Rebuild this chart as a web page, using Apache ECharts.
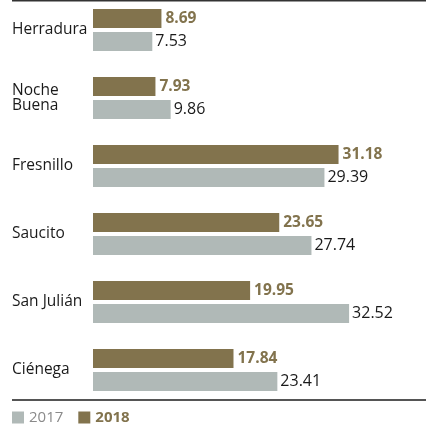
<!DOCTYPE html>
<html><head><meta charset="utf-8">
<script src="https://cdn.jsdelivr.net/npm/echarts@6/dist/echarts.min.js"></script>
<style>html,body{margin:0;padding:0;background:#fff}#c{width:426px;height:424px}</style>
</head><body><div id="c"></div>
<script>
var categories = ['Herradura', 'Noche\nBuena', 'Fresnillo', 'Saucito', 'San Julián', 'Ciénega'];
var values2018 = [8.69, 7.93, 31.18, 23.65, 19.95, 17.84];
var values2017 = [7.53, 9.86, 29.39, 27.74, 32.52, 23.41];
var seriesNames = ['2017', '2018'];

var c2018 = '#82734d', c2017 = '#b0b9b7';
var font = '"Open Sans", Lato, sans-serif';
var chart = echarts.init(document.getElementById('c'));
chart.setOption({
  animation: false,
  grid: { left: 93, top: -4, width: 315, height: 408, containLabel: false, outerBoundsMode: 'none' },
  xAxis: { type: 'value', min: 0, max: 40, show: false },
  yAxis: {
    type: 'category', data: categories, inverse: true,
    axisLine: { show: false }, axisTick: { show: false },
    axisLabel: { align: 'left', margin: 81, color: '#1a1a1a', fontSize: 15.5, fontFamily: font, lineHeight: 15 }
  },
  legend: {
    left: 12, top: 410, padding: 0, icon: 'rect', itemWidth: 12, itemHeight: 12, itemGap: 15,
    data: [
      { name: seriesNames[0], textStyle: { color: '#8a8a8a', fontSize: 15, fontFamily: font } },
      { name: seriesNames[1], textStyle: { color: c2018, fontSize: 15, fontWeight: 'bold', fontFamily: font } }
    ]
  },
  graphic: [
    { type: 'line', shape: { x1: 12, y1: 0.75, x2: 426, y2: 0.75 }, style: { stroke: '#333', lineWidth: 1.5 } },
    { type: 'line', shape: { x1: 12, y1: 400, x2: 426, y2: 400 }, style: { stroke: '#555', lineWidth: 2 } }
  ],
  series: [
    {
      name: seriesNames[1], type: 'bar', data: values2018, barWidth: 19, barGap: '21%',
      itemStyle: { color: c2018, borderWidth: 0 },
      label: { show: true, position: 'right', distance: 4, color: c2018, fontWeight: 'bold', fontSize: 15.5, fontFamily: font }
    },
    {
      name: seriesNames[0], type: 'bar', data: values2017, barWidth: 19, barGap: '21%',
      itemStyle: { color: c2017, borderWidth: 0 },
      label: { show: true, position: 'right', distance: 3, color: '#1a1a1a', fontSize: 16, fontFamily: font }
    }
  ]
});
</script></body></html>
